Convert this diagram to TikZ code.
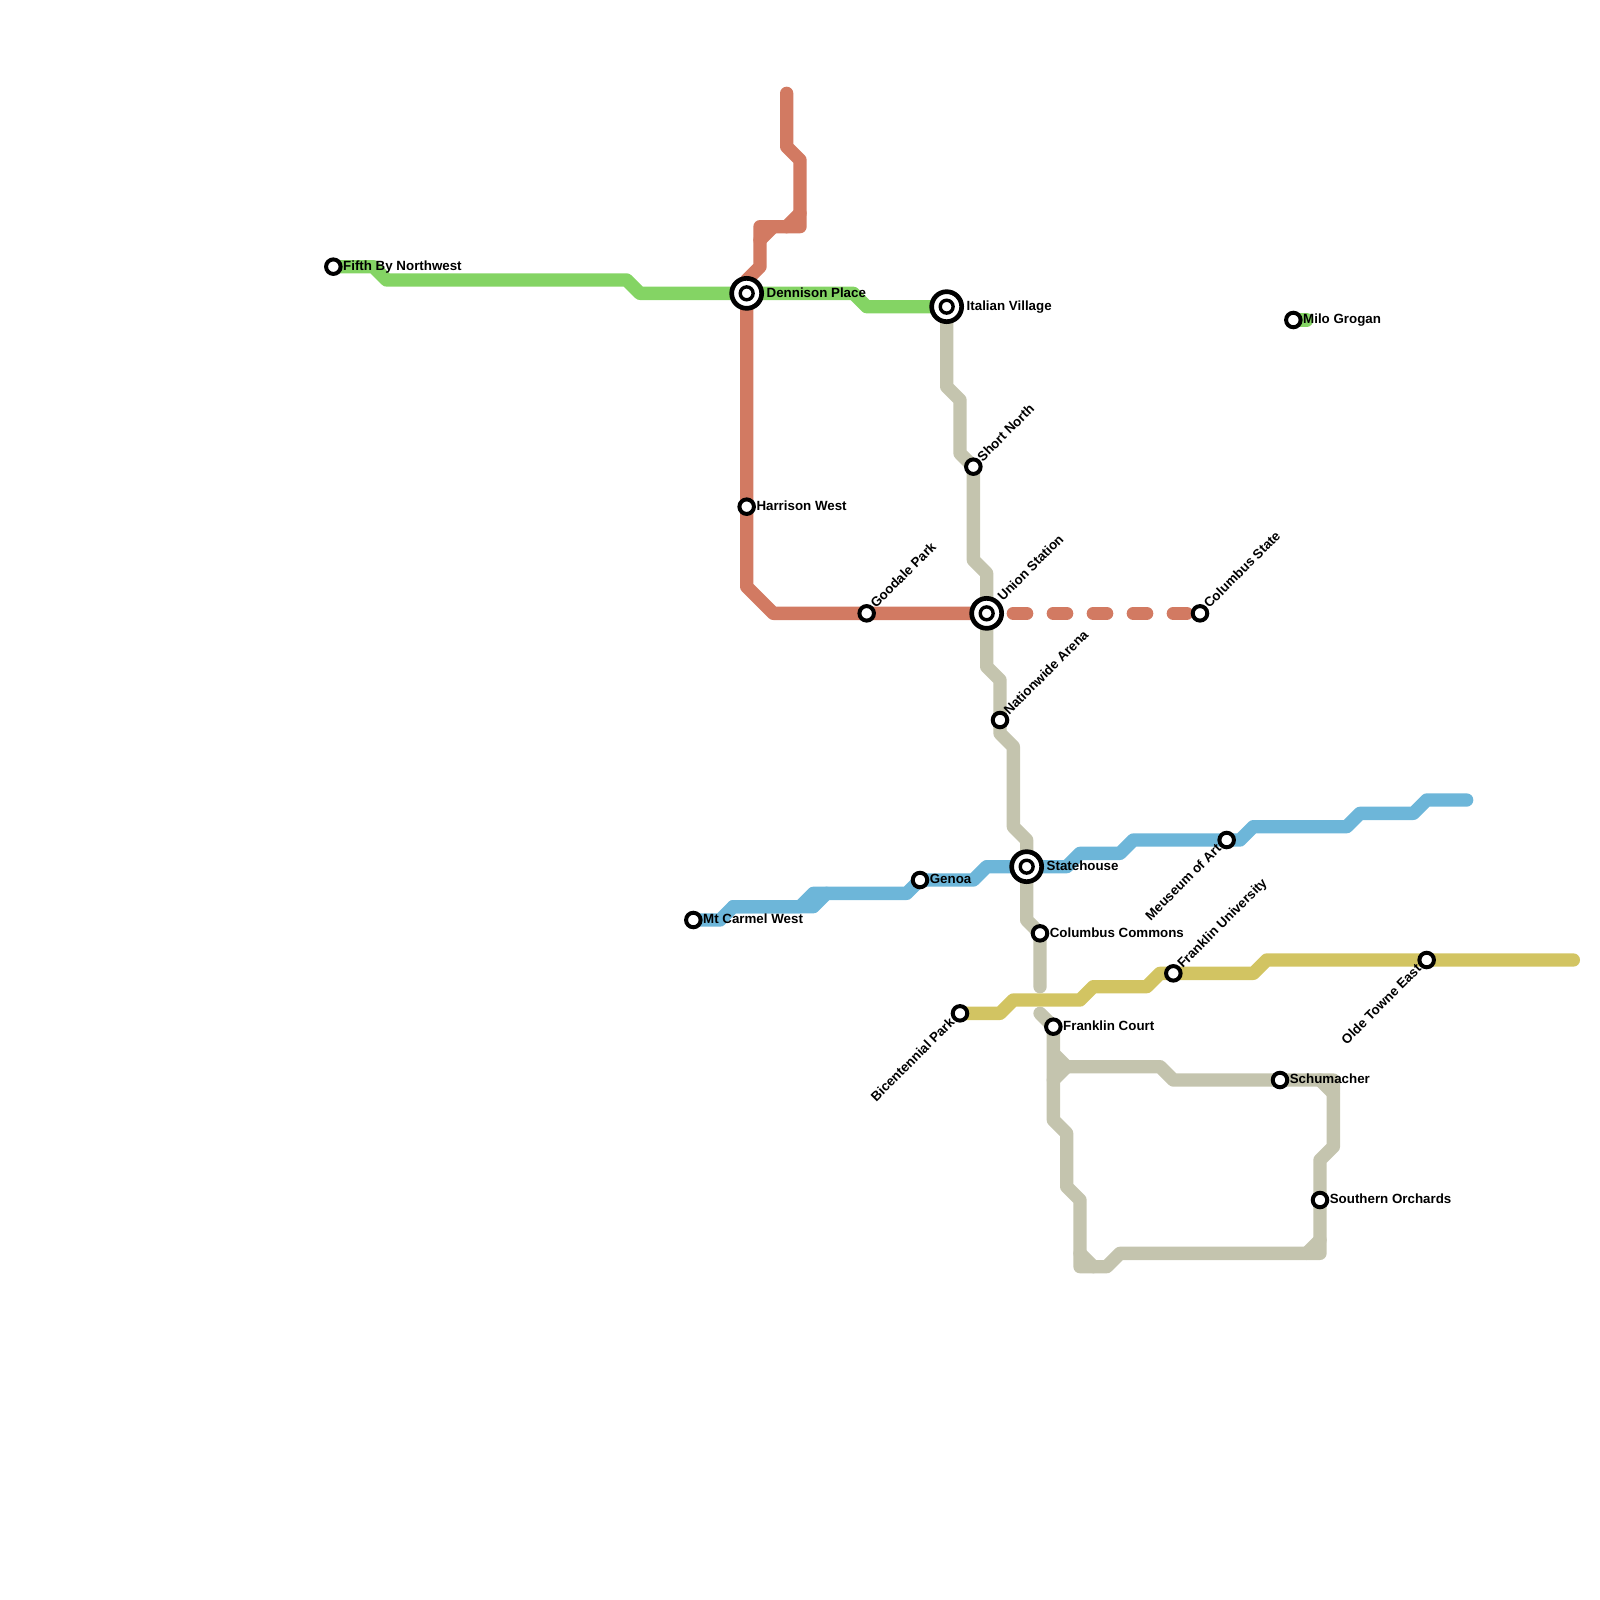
\documentclass[tikz,border=0pt]{standalone}
\usepackage{fontspec}
\setmainfont{Liberation Sans}
\pgfdeclarelayer{bg}
\pgfsetlayers{bg,main}
\definecolor{lgreen}{HTML}{84D464}
\definecolor{lred}{HTML}{D27A62}
\definecolor{lblue}{HTML}{6DB6D9}
\definecolor{lgray}{HTML}{C4C4AE}
\definecolor{lyellow}{HTML}{D2C462}
\tikzset{
  lineb/.style={line width=0.4cm,line join=round,line cap=round},
  stn/.style={circle,draw=black,fill=white,line width=3.4pt,minimum size=12.4pt,inner sep=0pt},
  hub/.style={circle,draw=black,fill=white,line width=4pt,minimum size=25.6pt,inner sep=0pt},
  hubin/.style={circle,draw=black,fill=white,line width=2.9pt,minimum size=11pt,inner sep=0pt},
  lbl/.style={font=\fontsize{11.38}{13}\selectfont\bfseries,text=black,inner sep=0pt},
  lblE/.style={lbl,anchor=base west,xshift=8.2pt,yshift=-3.4pt},
  lblEE/.style={lbl,anchor=base west,xshift=16.9pt,yshift=-3.4pt},
  lblUR/.style={lbl,anchor=base west,xshift=7.9pt,yshift=3.7pt,rotate=45},
  lblURR/.style={lbl,anchor=base west,xshift=13.9pt,yshift=9.9pt,rotate=45},
  lblDL/.style={lbl,anchor=base east,xshift=-3.8pt,yshift=-8.2pt,rotate=45}
}
\begin{document}
\begin{tikzpicture}[x=0.4cm,y=-0.4cm]
\useasboundingbox (0,0) rectangle (120,120);
% stations
\node[stn] (fifth) at (25,20) {};
\node[hub] (dennison) at (56,22) {};
\node[hubin] (dennisonI) at (dennison) {};
\node[hub] (italian) at (71,23) {};
\node[hubin] (italianI) at (italian) {};
\node[stn] (milo) at (97,24) {};
\node[stn] (harrison) at (56,38) {};
\node[stn] (goodale) at (65,46) {};
\node[hub] (union) at (74,46) {};
\node[hubin] (unionI) at (union) {};
\node[stn] (costate) at (90,46) {};
\node[stn] (short) at (73,35) {};
\node[stn] (nation) at (75,54) {};
\node[stn] (mtcarmel) at (52,69) {};
\node[stn] (genoa) at (69,66) {};
\node[hub] (state) at (77,65) {};
\node[hubin] (stateI) at (state) {};
\node[stn] (museum) at (92,63) {};
\node[stn] (commons) at (78,70) {};
\node[stn] (bicent) at (72,76) {};
\node[stn] (frankuni) at (88,73) {};
\node[stn] (olde) at (107,72) {};
\node[stn] (frankct) at (79,77) {};
\node[stn] (schum) at (96,81) {};
\node[stn] (south) at (99,90) {};
% free ends
\coordinate (redN) at (59,7);
\coordinate (grayA) at (78,74);
\coordinate (grayB) at (78,76);
\coordinate (blueE) at (110,60);
\coordinate (yellowE) at (118,72);
\coordinate (miloE) at (98,24);
\coordinate (dashS) at (76,46);
% labels
\node[lblE] (fifthL) at (fifth) {Fifth By Northwest};
\node[lblEE] (dennisonL) at (dennison) {Dennison Place};
\node[lblEE] (italianL) at (italian) {Italian Village};
\node[lblE] (miloL) at (milo) {Milo Grogan};
\node[lblE] (harrisonL) at (harrison) {Harrison West};
\node[lblUR] (goodaleL) at (goodale) {Goodale Park};
\node[lblURR] (unionL) at (union) {Union Station};
\node[lblUR] (costateL) at (costate) {Columbus State};
\node[lblUR] (shortL) at (short) {Short North};
\node[lblUR] (nationL) at (nation) {Nationwide Arena};
\node[lblE] (mtcarmelL) at (mtcarmel) {Mt Carmel West};
\node[lblE] (genoaL) at (genoa) {Genoa};
\node[lblEE] (stateL) at (state) {Statehouse};
\node[lblDL] (museumL) at (museum) {Meuseum of Art};
\node[lblE] (commonsL) at (commons) {Columbus Commons};
\node[lblDL] (bicentL) at (bicent) {Bicentennial Park};
\node[lblUR] (frankuniL) at (frankuni) {Franklin University};
\node[lblDL] (oldeL) at (olde) {Olde Towne East};
\node[lblE] (frankctL) at (frankct) {Franklin Court};
\node[lblE] (schumL) at (schum) {Schumacher};
\node[lblE] (southL) at (south) {Southern Orchards};
\begin{pgfonlayer}{bg}
% gray
\draw[lineb,lgray] (italian.center) -- (71,29) -- (72,30) -- (72,34) -- (short.center) -- (73,42) -- (74,43) -- (union.center) -- (74,50) -- (75,51) -- (nation.center) -- (75,55) -- (76,56) -- (76,62) -- (77,63) -- (state.center) -- (77,69) -- (commons.center) -- (grayA);
\draw[lineb,lgray] (grayB) -- (frankct.center) -- (79,84) -- (80,85) -- (80,89) -- (81,90) -- (81,95) -- (83,95) -- (84,94) -- (99,94) -- (south.center) -- (99,87) -- (100,86) -- (100,81) -- (schum.center) -- (88,81) -- (87,80) -- (80,80) -- (79,79);
\draw[lineb,lgray] (80,80) -- (79,81);
\draw[lineb,lgray] (81,94) -- (82,95);
\draw[lineb,lgray] (98,94) -- (99,93);
\draw[lineb,lgray] (99,81) -- (100,82);
% red
\draw[lineb,lred] (redN) -- (59,11) -- (60,12) -- (60,17) -- (57,17) -- (57,20) -- (56,21) -- (dennison.center) -- (harrison.center) -- (56,44) -- (58,46) -- (goodale.center) -- (union.center);
\draw[lineb,lred] (60,16) -- (59,17);
\draw[lineb,lred] (58,17) -- (57,18);
\draw[lineb,lred,dash pattern=on 0.4cm off 0.8cm] (dashS) -- (costate.center);
% green
\draw[lineb,lgreen] (fifth.center) -- (28,20) -- (29,21) -- (47,21) -- (48,22) -- (dennison.center) -- (64,22) -- (65,23) -- (italian.center);
\draw[lineb,lgreen] (milo.center) -- (miloE);
% blue
\draw[lineb,lblue] (mtcarmel.center) -- (54,69) -- (55,68) -- (60,68) -- (61,67) -- (68,67) -- (genoa.center) -- (73,66) -- (74,65) -- (state.center) -- (80,65) -- (81,64) -- (84,64) -- (85,63) -- (museum.center) -- (93,63) -- (94,62) -- (101,62) -- (102,61) -- (106,61) -- (107,60) -- (blueE);
\draw[lineb,lblue] (55,68) -- (61,68) -- (62,67);
% yellow
\draw[lineb,lyellow] (bicent.center) -- (75,76) -- (76,75) -- (81,75) -- (82,74) -- (86,74) -- (87,73) -- (frankuni.center) -- (94,73) -- (95,72) -- (olde.center) -- (yellowE);
\end{pgfonlayer}
\end{tikzpicture}
\end{document}
